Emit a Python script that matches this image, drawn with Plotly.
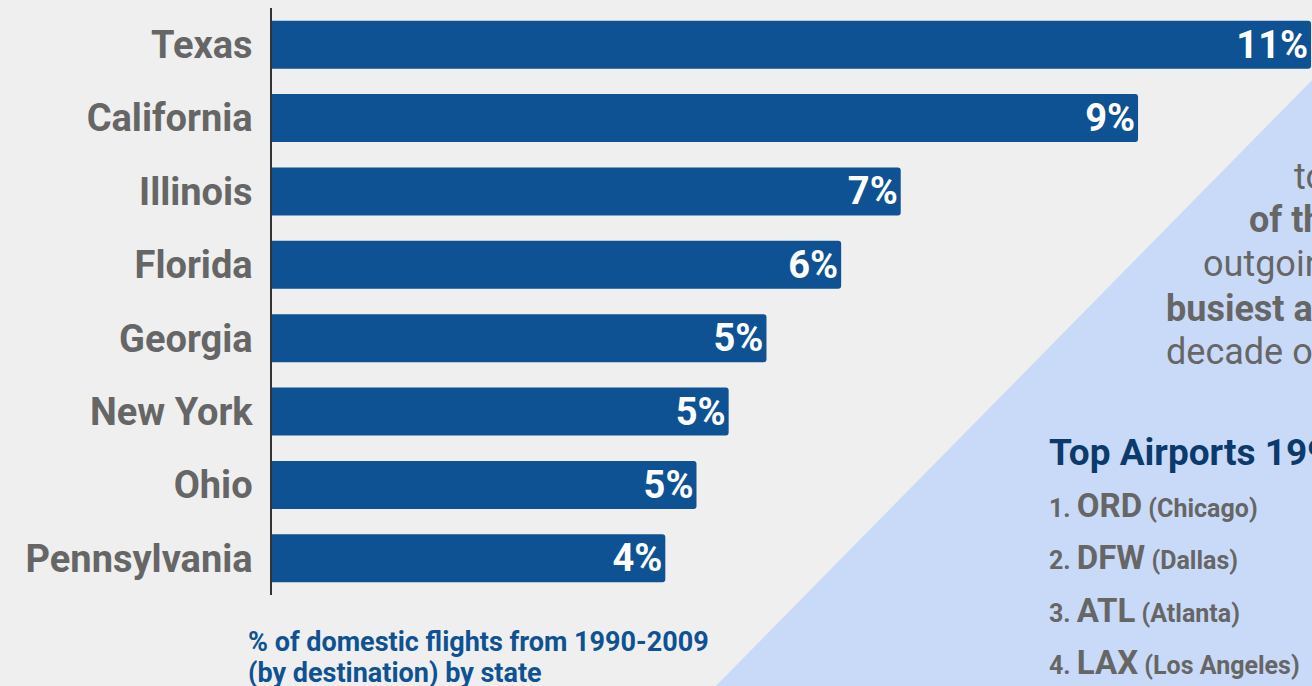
import plotly.graph_objects as go

# ---- data ----
states = ["Texas", "California", "Illinois", "Florida", "Georgia", "New York", "Ohio", "Pennsylvania"]
share_pct = [10.99, 9.16, 6.65, 6.02, 5.23, 4.83, 4.49, 4.16]
share_labels = ["11%", "9%", "7%", "6%", "5%", "5%", "5%", "4%"]

airport_codes = ["ORD", "DFW", "ATL", "LAX"]
airport_cities = ["Chicago", "Dallas", "Atlanta", "Los Angeles"]

caption_lines = ["% of domestic flights from 1990-2009", "(by destination) by state"]
side_heading = "Top Airports 1990-2009"
paragraph_lines = ["to the top", "of the total", "outgoing flights", "busiest airports", "decade of data"]
paragraph_bold = [False, True, False, True, False]

# ---- layout helpers (pixel -> paper) ----
W, H = 1312, 686
ML, MR, MT, MB = 272, 0, 8, 91
PW, PH = W - ML - MR, H - MT - MB


def px(x):
    return (x - ML) / PW


def py(y):
    return (H - MB - y) / PH


BAR = "#0e5293"
GRAY = "#666666"
FONT = "Roboto"

fig = go.Figure(
    go.Bar(
        y=states,
        x=share_pct,
        orientation="h",
        text=share_labels,
        textposition="inside",
        insidetextanchor="end",
        constraintext="none",
        textfont=dict(family=FONT, size=38, color="white", weight="bold"),
        marker=dict(color=BAR, cornerradius=3, line=dict(width=0)),
        hoverinfo="skip",
    )
)

# light-blue diagonal panel
fig.add_shape(
    type="path",
    xref="paper", yref="paper",
    path=f"M {px(702)} {py(700)} L {px(1322)} {py(70)} L {px(1330)} {py(70)} L {px(1330)} {py(700)} Z",
    fillcolor="#c9daf8", line=dict(width=0), layer="below",
)

ann = []
# paragraph (runs past the right edge, as in the original)
para_x = [1292, 1247, 1201, 1164, 1164]
para_y = [177, 220, 264, 309, 352]
for t, b, x, y in zip(paragraph_lines, paragraph_bold, para_x, para_y):
    ann.append(dict(
        text=f"<b>{t}</b>" if b else t, x=px(x), y=py(y), xref="paper", yref="paper",
        xanchor="left", yanchor="middle", showarrow=False,
        font=dict(family=FONT, size=36, color=GRAY),
    ))

# heading
ann.append(dict(
    text=f"<b>{side_heading}</b>", x=px(1047), y=py(452), xref="paper", yref="paper",
    xanchor="left", yanchor="middle", showarrow=False,
    font=dict(family=FONT, size=37, color="#0b3b6d"),
))

# airport list
list_y = [505, 557, 610, 662]
for i, (code, city) in enumerate(zip(airport_codes, airport_cities)):
    ann.append(dict(
        text=f"<b>{i + 1}. <span style='font-size:33px'>{code}</span> ({city})</b>",
        x=px(1047), y=py(list_y[i]), xref="paper", yref="paper",
        xanchor="left", yanchor="middle", showarrow=False,
        font=dict(family=FONT, size=25, color=GRAY),
    ))

# caption
for t, y in zip(caption_lines, [642, 673]):
    ann.append(dict(
        text=f"<b>{t}</b>", x=px(246), y=py(y), xref="paper", yref="paper",
        xanchor="left", yanchor="middle", showarrow=False,
        font=dict(family=FONT, size=27, color=BAR),
    ))

fig.update_layout(
    width=W, height=H,
    margin=dict(l=ML, r=MR, t=MT, b=MB, pad=0),
    paper_bgcolor="#efefef",
    plot_bgcolor="rgba(0,0,0,0)",
    bargap=0.346,
    showlegend=False,
    annotations=ann,
    xaxis=dict(range=[0, 11], visible=False, fixedrange=True),
    yaxis=dict(
        autorange="reversed", showline=True, linecolor="#333333", linewidth=1.5,
        showgrid=False, zeroline=False, ticks="", ticklabelstandoff=10,
        tickfont=dict(family=FONT, size=38, color=GRAY, weight="bold"),
        fixedrange=True,
    ),
)

fig.write_html(
    "out.html",
    config={"displayModeBar": False},
    post_script="document.body.style.margin='0';document.body.style.overflow='hidden';",
)
